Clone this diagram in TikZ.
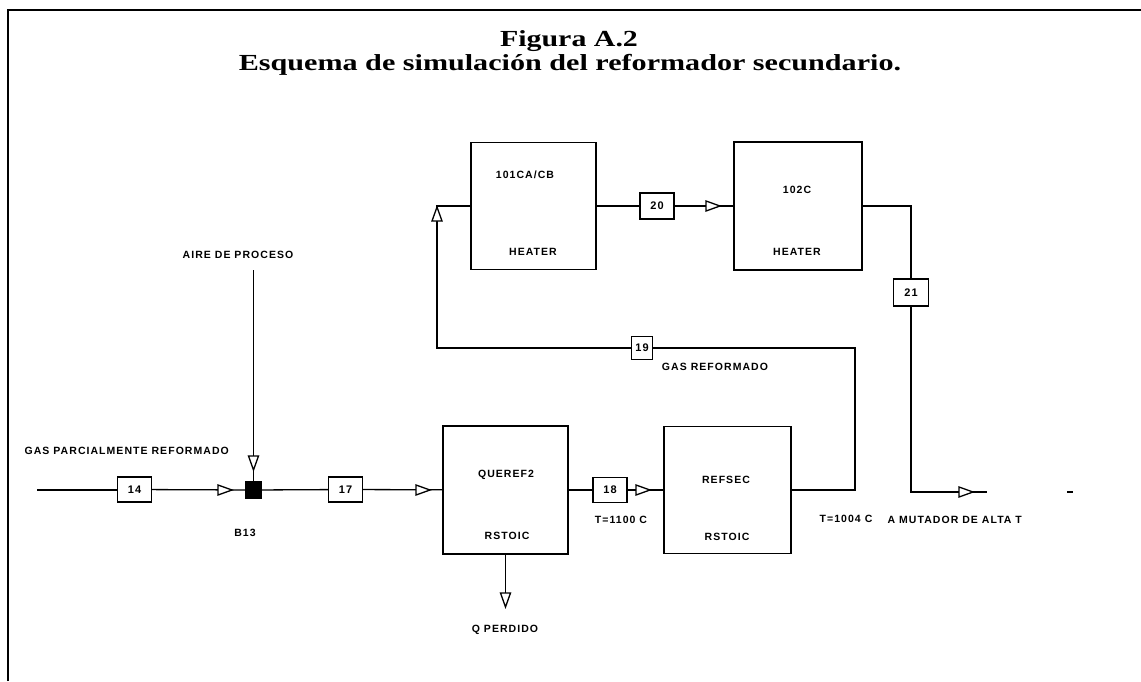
\documentclass[tikz,border=0pt]{standalone}
\usepackage{fontspec}
\setmainfont{Liberation Serif}
\newfontfamily\plotfont[LetterSpace=10]{Liberation Sans}
\begin{document}
\begin{tikzpicture}[x=1pt,y=-1pt,line width=1.3pt,
  blk/.style={draw,line width=1.4pt,inner sep=0pt},
  stream/.style={draw,line width=1.4pt,minimum width=34pt,minimum height=25pt,inner sep=0pt,font=\plotfont\bfseries\fontsize{11}{11}\selectfont},
  lbl/.style={font=\plotfont\bfseries\fontsize{10.5}{10.5}\selectfont,inner sep=0pt},
  ttl/.style={font=\bfseries\fontsize{23}{23}\selectfont,inner sep=0pt,anchor=base},
  otri/.pic={\draw[line width=1.3pt,fill=white] (0,0) -- (-14,5) -- (-14,-5) -- cycle;}]
\useasboundingbox (0,0) rectangle (1141,681);
% frame
\draw[line width=2.6pt] (8,681) -- (8,10) -- (1141,10);
% title
\node[ttl] (t1) at (569,46) {\scalebox{1.3}[1]{Figura A.2}};
\node[ttl] (t2) at (570,70) {\scalebox{1.31}[1]{Esquema de simulación del reformador secundario.}};
% blocks
\node[blk,minimum width=125pt,minimum height=128pt] (queref2) at (505.5,490) {};
\node[blk,minimum width=127pt,minimum height=127pt] (refsec) at (727.5,490) {};
\node[blk,minimum width=125pt,minimum height=127pt] (heat1) at (533.5,206) {};
\node[blk,minimum width=128pt,minimum height=128pt] (heat2) at (798,206) {};
% block labels
\node[lbl] (l1) at (506,475) {QUEREF2};
\node[lbl] (l2) at (507,536) {RSTOIC};
\node[lbl] (l3) at (726,480) {REFSEC};
\node[lbl] (l4) at (727,537) {RSTOIC};
\node[lbl] (l5) at (525,175) {101CA/CB};
\node[lbl] (l6) at (533,252) {HEATER};
\node[lbl] (l7) at (797,190) {102C};
\node[lbl] (l8) at (797,252) {HEATER};
% mixer
\node[draw,fill=black,minimum size=16pt,inner sep=0pt] (b13) at (253.5,490) {};
% streams
\node[stream] (s14) at (134.5,489.5) {14};
\node[stream] (s17) at (345.5,489.5) {17};
\node[stream] (s18) at (610,490) {18};
\node[stream,minimum height=26pt] (s20) at (657,206) {20};
\node[stream,minimum width=35pt,minimum height=27pt] (s21) at (911,292.5) {21};
\node[stream,minimum width=21pt,minimum height=23pt] (s19) at (642,348) {19};
% coordinates
\coordinate (in) at (37,490);
\coordinate (aire) at (253.5,270);
\coordinate (qp) at (505.5,607);
\coordinate (c1) at (855,490);
\coordinate (c2) at (855,348);
\coordinate (c3) at (437,348);
\coordinate (c4) at (437,206);
\coordinate (c5) at (911,206);
\coordinate (c6) at (911,492);
\coordinate (out) at (987,492);
% connectors
\draw (in) -- (in -| s14.west);
\draw (s14) -- (b13);
\draw (aire) -- (b13);
\draw (b13) -- (s17);
\draw (s17) -- (queref2);
\draw (queref2.south) -- (qp);
\draw (queref2) -- (s18) -- (refsec);
\draw (refsec.east) -- (c1) -- (c2) -- (s19) -- (c3) -- (c4) -- (heat1.west);
\draw (heat1) -- (s20) -- (heat2);
\draw (heat2.east) -- (c5) -- (s21) -- (c6) -- (out);
\draw[line width=2pt] (1067,492) -- (1073,492);
% arrowheads
\pic at (232,490) {otri};
\pic[rotate=-90] at (253.5,470) {otri};
\pic at (430,490) {otri};
\pic at (650,490) {otri};
\pic[rotate=-90] at (505.5,607) {otri};
\pic[rotate=90] at (437,207) {otri};
\pic at (720,206) {otri};
\pic at (973,492) {otri};
% labels
\node[lbl,anchor=west] (gpr) at (24,451) {GAS PARCIALMENTE REFORMADO};
\node[lbl] (ap) at (238,255) {AIRE DE PROCESO};
\node[lbl] (b13l) at (245,533) {B13};
\node[lbl] (qpl) at (505,630) {Q PERDIDO};
\node[lbl] (t1100) at (621,520) {T=1100 C};
\node[lbl] (t1004) at (846,519) {T=1004 C};
\node[lbl] (gr) at (715,367) {GAS REFORMADO};
\node[lbl,anchor=west] (amt) at (887,520) {A MUTADOR DE ALTA T};
\end{tikzpicture}
\end{document}
